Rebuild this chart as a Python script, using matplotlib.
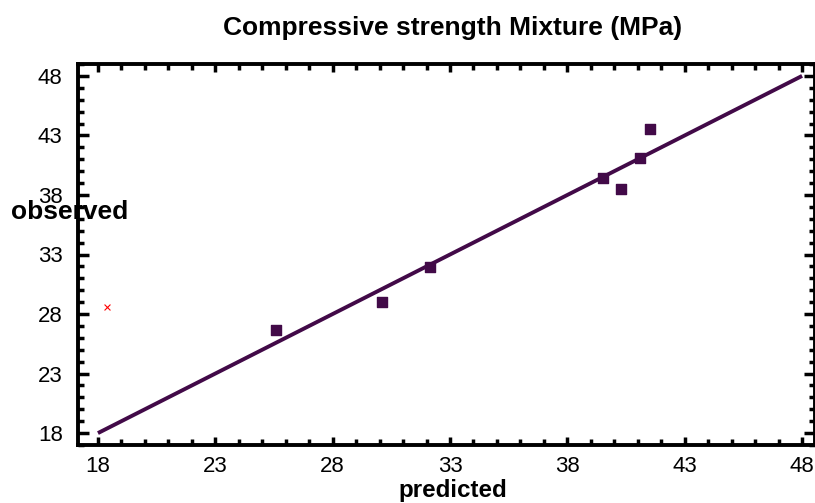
import numpy as np
import matplotlib
matplotlib.use('Agg')
import matplotlib.pyplot as plt
from matplotlib.ticker import MultipleLocator

plt.rcParams['font.family'] = ['Liberation Sans', 'DejaVu Sans']

# data
predicted = [25.6, 30.1, 32.15, 39.5, 40.3, 41.1, 41.5]
observed = [26.65, 29.0, 31.95, 39.4, 38.5, 41.1, 43.5]
outlier_x = [18.4]
outlier_y = [28.6]
ticks = [18, 23, 28, 33, 38, 43, 48]

col = '#420a48'

fig = plt.figure(figsize=(8.15, 5.03), dpi=100)
ax = fig.add_axes([78/815, 1-445/503, 737/815, 381/503])

ax.plot([18, 48], [18, 48], color=col, lw=2.8, solid_capstyle='butt', zorder=2)
ax.scatter(predicted, observed, marker='s', s=48, color=col, zorder=3)
ax.scatter(outlier_x, outlier_y, marker='x', s=18, color='red', lw=0.8, zorder=3)

ax.set_xlim(17.15, 48.55)
ax.set_ylim(17.0, 49.0)
ax.set_xticks(ticks)
ax.set_yticks(ticks)
ax.xaxis.set_minor_locator(MultipleLocator(1))
ax.yaxis.set_minor_locator(MultipleLocator(1))
ax.tick_params(which='major', direction='in', length=8, width=2.5, labelsize=16,
               top=True, right=True)
ax.tick_params(which='minor', direction='in', length=4, width=2.5, top=True, right=True)
ax.tick_params(axis='x', which='major', length=6, pad=8)
ax.tick_params(axis='y', which='major', pad=11)
for s in ax.spines.values():
    s.set_linewidth(2.8)

fig.text(453/815, 1-35/503, 'Compressive strength Mixture (MPa)', ha='center', va='baseline',
         fontsize=19, fontweight='bold')
fig.text(70/815, 1-219/503, 'observed', ha='center', va='baseline', fontsize=19, fontweight='bold')
fig.text(453/815, 1-497/503, 'predicted', ha='center', va='baseline', fontsize=17.4, fontweight='bold')

plt.savefig('out.png', dpi=100)
